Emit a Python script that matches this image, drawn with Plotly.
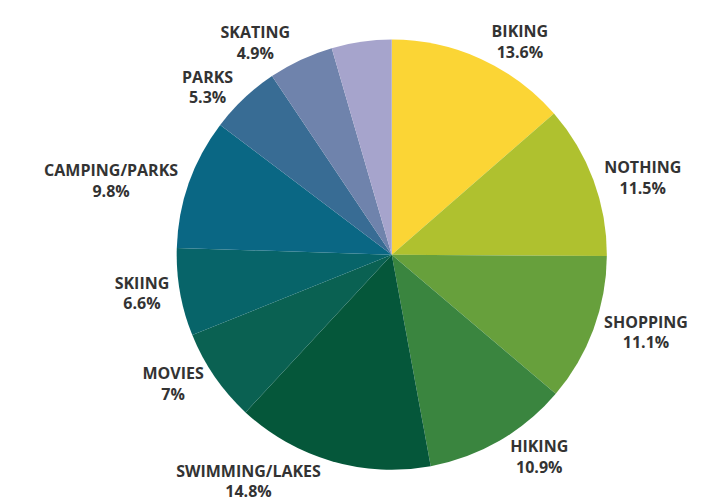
import plotly.graph_objects as go

categories = ["BIKING", "NOTHING", "SHOPPING", "HIKING", "SWIMMING/LAKES",
              "MOVIES", "SKIING", "CAMPING/PARKS", "PARKS", "SKATING", "OTHER"]
values = [13.6, 11.5, 11.1, 10.9, 14.8, 7.0, 6.6, 9.8, 5.3, 4.9, 4.5]
pct_labels = ["13.6%", "11.5%", "11.1%", "10.9%", "14.8%", "7%", "6.6%",
              "9.8%", "5.3%", "4.9%", ""]
colors = ["#fbd535", "#afc12f", "#67a03c", "#3a853f", "#05573a", "#0a6152",
          "#076469", "#0a6784", "#386c94", "#6f83ac", "#a6a4cc"]

texts = [f"{c}<br>{p}" if p else "" for c, p in zip(categories, pct_labels)]

fig = go.Figure(go.Pie(
    labels=categories,
    values=values,
    text=texts,
    textinfo="text",
    textposition="outside",
    sort=False,
    direction="clockwise",
    rotation=0,
    marker=dict(colors=colors, line=dict(width=0)),
    outsidetextfont=dict(family="Open Sans", size=16, color="#333333", weight=700),
    hoverinfo="label+value",
    domain=dict(x=[0.231, 0.835], y=[0.036, 0.934]),
    showlegend=False,
))

fig.update_layout(
    width=720, height=499,
    margin=dict(l=0, r=0, t=0, b=0),
    paper_bgcolor="white",
    plot_bgcolor="white",
)

fig.write_html("out.html")
